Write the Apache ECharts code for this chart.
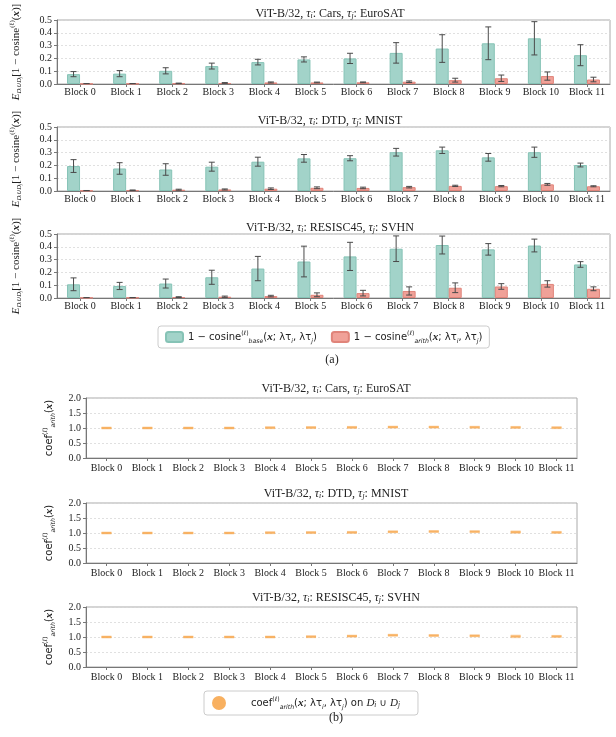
<!DOCTYPE html>
<html>
<head>
<meta charset="utf-8">
<script src="https://cdn.jsdelivr.net/npm/echarts@6/dist/echarts.min.js"></script>
<style>
  html, body { margin: 0; padding: 0; background: #fff; }
  #chart { width: 616px; height: 737px; }
</style>
</head>
<body>
<div id="chart"></div>
<script>
  const blocks = ['Block 0', 'Block 1', 'Block 2', 'Block 3', 'Block 4', 'Block 5',
                  'Block 6', 'Block 7', 'Block 8', 'Block 9', 'Block 10', 'Block 11'];
  const tasksI = ['Cars', 'DTD', 'RESISC45'];
  const tasksJ = ['EuroSAT', 'MNIST', 'SVHN'];

  // (a) mean and std of 1 - cosine, per block
  const baseCars    = [0.077, 0.081, 0.103, 0.140, 0.171, 0.192, 0.200, 0.243, 0.277, 0.318, 0.357, 0.225];
  const baseCarsSd  = [0.020, 0.024, 0.024, 0.023, 0.022, 0.020, 0.040, 0.080, 0.108, 0.128, 0.130, 0.082];
  const arithCars   = [0.002, 0.003, 0.005, 0.008, 0.012, 0.012, 0.013, 0.018, 0.030, 0.045, 0.062, 0.035];
  const arithCarsSd = [0.001, 0.001, 0.002, 0.003, 0.004, 0.003, 0.003, 0.006, 0.015, 0.025, 0.032, 0.018];

  const baseDtd    = [0.195, 0.176, 0.168, 0.190, 0.229, 0.255, 0.256, 0.303, 0.318, 0.263, 0.303, 0.203];
  const baseDtdSd  = [0.050, 0.045, 0.045, 0.035, 0.035, 0.030, 0.020, 0.030, 0.025, 0.030, 0.040, 0.015];
  const arithDtd   = [0.003, 0.006, 0.010, 0.012, 0.018, 0.025, 0.024, 0.030, 0.040, 0.038, 0.052, 0.037];
  const arithDtdSd = [0.001, 0.002, 0.004, 0.004, 0.006, 0.007, 0.006, 0.006, 0.005, 0.005, 0.007, 0.004];

  const baseRes    = [0.107, 0.094, 0.113, 0.162, 0.230, 0.285, 0.325, 0.385, 0.414, 0.380, 0.410, 0.262];
  const baseResSd  = [0.050, 0.028, 0.035, 0.055, 0.095, 0.120, 0.110, 0.100, 0.070, 0.045, 0.050, 0.022];
  const arithRes   = [0.002, 0.003, 0.007, 0.010, 0.015, 0.025, 0.038, 0.055, 0.080, 0.090, 0.110, 0.072];
  const arithResSd = [0.001, 0.001, 0.003, 0.005, 0.006, 0.015, 0.022, 0.032, 0.038, 0.022, 0.025, 0.015];

  // (b) coefficient centre and half spread, per block
  const coefCars     = [1.000, 1.000, 1.000, 1.000, 1.010, 1.015, 1.020, 1.030, 1.030, 1.025, 1.020, 1.010];
  const coefCarsSp   = [0.005, 0.005, 0.008, 0.008, 0.010, 0.012, 0.012, 0.015, 0.015, 0.015, 0.015, 0.012];
  const coefDtd      = [1.000, 1.000, 1.000, 1.000, 1.010, 1.015, 1.020, 1.040, 1.050, 1.045, 1.030, 1.020];
  const coefDtdSp    = [0.008, 0.006, 0.010, 0.012, 0.012, 0.012, 0.015, 0.020, 0.025, 0.040, 0.060, 0.040];
  const coefRes      = [1.000, 1.000, 1.000, 1.000, 1.000, 1.010, 1.030, 1.060, 1.050, 1.040, 1.020, 1.020];
  const coefResSp    = [0.005, 0.005, 0.006, 0.006, 0.006, 0.010, 0.015, 0.020, 0.025, 0.050, 0.060, 0.050];

  const aTicks = [0, 0.1, 0.2, 0.3, 0.4, 0.5];
  const bTicks = [0, 0.5, 1.0, 1.5, 2.0];

  const basePanels  = [[baseCars, baseCarsSd], [baseDtd, baseDtdSd], [baseRes, baseResSd]];
  const arithPanels = [[arithCars, arithCarsSd], [arithDtd, arithDtdSd], [arithRes, arithResSd]];
  const coefPanels  = [[coefCars, coefCarsSp], [coefDtd, coefDtdSp], [coefRes, coefResSp]];

  const SERIF = 'Liberation Serif';
  const SANS = 'DejaVu Sans';
  const INK = '#222';
  const TEAL = '#a2d3c9', TEAL_EDGE = '#86c3b6';
  const RED = '#f0a198', RED_EDGE = '#e0847a';
  const ORANGE = '#f8b060';

  // text pieces shared by titles, axis names and legends
  function richSet(base){
    const sm = Math.round(base * 0.62 * 10) / 10;
    const lh = base + 6;
    const common = { color: INK, fontWeight: 'normal', lineHeight: lh };
    return {
      n:  { ...common, fontFamily: SANS, fontSize: base },
      t:  { ...common, fontFamily: SERIF, fontSize: base + 1 },
      it: { ...common, fontFamily: SERIF, fontStyle: 'italic', fontSize: base + 1 },
      ti: { ...common, fontFamily: SERIF, fontStyle: 'italic', fontSize: sm + 1, verticalAlign: 'bottom', padding: [0, 0, 2, 0] },
      sr: { ...common, fontFamily: SERIF, fontSize: base + 1 },
      ie: { ...common, fontFamily: SERIF, fontStyle: 'italic', fontSize: base + 1 },
      p:  { ...common, fontFamily: SANS, fontSize: sm, verticalAlign: 'top', padding: [1, 0, 0, 0] },
      s:  { ...common, fontFamily: SANS, fontStyle: 'italic', fontSize: sm, verticalAlign: 'bottom', padding: [0, 0, 1, 0] },
      ps: { ...common, fontFamily: SERIF, fontSize: sm + 0.5, verticalAlign: 'top', padding: [1, 0, 0, 0] },
      ss: { ...common, fontFamily: SERIF, fontStyle: 'italic', fontSize: sm + 0.5, verticalAlign: 'bottom', padding: [0, 0, 1, 0] },
      bx: { ...common, fontFamily: SERIF, fontStyle: 'italic', fontWeight: 'bold', fontSize: base + 1 },
      cd: { ...common, fontFamily: SERIF, fontStyle: 'italic', fontSize: base + 1 }
    };
  }
  const titleRich = richSet(11);
  const nameRich = richSet(10);
  const legendRich = richSet(10);

  const aName = '{ie|E}{ss|Dᵢ∪Dⱼ}{sr|[1 − cosine}{ps|(ℓ)}{sr|(}{bx|x}{sr|)]}';
  const bName = '{n|coef}{p|(ℓ)}{s|arith}{n|(}{bx|x}{n|)}';
  const legendText = {
    base:  '{n|1 − cosine}{p|(ℓ)}{s|base}{n|(}{bx|x}{n|; λτ}{s|i}{n|, λτ}{s|j}{n|)}',
    arith: '{n|1 − cosine}{p|(ℓ)}{s|arith}{n|(}{bx|x}{n|; λτ}{s|i}{n|, λτ}{s|j}{n|)}',
    coef:  '{n|coef}{p|(ℓ)}{s|arith}{n|(}{bx|x}{n|; λτ}{s|i}{n|, λτ}{s|j}{n|) on }{cd|D}{ti|i}{n| ∪ }{cd|D}{ti|j}'
  };

  const titleText = k => `{t|ViT-B/32, }{it|τ}{ti|i}{t|: ${tasksI[k]}, }{it|τ}{ti|j}{t|: ${tasksJ[k]}}`;

  const aTops = [20, 127, 234], aH = 64, aLeft = 41, aRight = 6;
  const bTops = [398, 503, 607], bH = 60, bLeft = 86, bRight = 39;

  const grid = [], xAxis = [], yAxis = [], series = [], title = [];

  function catAxis(gi, margin){
    return {
      type: 'category', gridIndex: gi, data: blocks,
      axisLine: { lineStyle: { color: '#777' } },
      axisTick: { show: true, alignWithLabel: true, length: 3, lineStyle: { color: '#777' } },
      axisLabel: { fontFamily: SERIF, fontSize: 10, color: INK, margin, interval: 0 }
    };
  }

  function valAxis(gi, ticks, name, nameGap){
    const step = ticks[1] - ticks[0];
    return {
      type: 'value', gridIndex: gi, min: ticks[0], max: ticks[ticks.length - 1], interval: step,
      name, nameLocation: 'middle', nameRotate: 90, nameGap,
      nameTextStyle: { rich: nameRich },
      axisLine: { show: true, lineStyle: { color: '#777' } },
      axisTick: { show: true, length: 3, lineStyle: { color: '#777' } },
      axisLabel: { fontFamily: SERIF, fontSize: 10, color: INK, margin: 5, formatter: v => v.toFixed(1) },
      splitLine: { show: true, lineStyle: { color: '#d9d9d9', type: [2, 2], width: 0.8 } }
    };
  }

  function errRender(offset){
    return (params, api) => {
      const i = api.value(0), m = api.value(1), s = api.value(2);
      const hi = api.coord([i, m + s]), lo = api.coord([i, m - s]);
      const x = hi[0] + offset;
      const st = { stroke: '#4a4a4a', lineWidth: 1 };
      return { type: 'group', children: [
        { type: 'line', shape: { x1: x, y1: hi[1], x2: x, y2: lo[1] }, style: st },
        { type: 'line', shape: { x1: x - 3, y1: hi[1], x2: x + 3, y2: hi[1] }, style: st },
        { type: 'line', shape: { x1: x - 3, y1: lo[1], x2: x + 3, y2: lo[1] }, style: st }
      ]};
    };
  }

  function coefRender(params, api){
    const i = api.value(0), m = api.value(1), s = api.value(2);
    const c = api.coord([i, m]), hi = api.coord([i, m + s]), lo = api.coord([i, m - s]);
    const w = 10, h = Math.max(lo[1] - hi[1], 3);
    return { type: 'group', children: [
      { type: 'rect', shape: { x: c[0] - w / 2, y: c[1] - h / 2, width: w, height: h }, style: { fill: 'rgba(248,176,96,0.4)' } },
      { type: 'rect', shape: { x: c[0] - w / 2, y: c[1] - 1, width: w, height: 2 }, style: { fill: 'rgba(247,170,84,0.85)' } }
    ]};
  }

  const BW = 13;

  // panel (a)
  for (let k = 0; k < 3; k++) {
    const gi = k;
    grid.push({ left: aLeft, right: aRight, top: aTops[k], height: aH, show: true, borderColor: '#aaa', borderWidth: 1 });
    xAxis.push(catAxis(gi, 3));
    yAxis.push(valAxis(gi, aTicks, aName, 33));
    title.push({ text: titleText(k), left: 325, textAlign: 'center', top: aTops[k] - 20,
                 textStyle: { fontWeight: 'normal', rich: titleRich } });
    const [bm, bs] = basePanels[k];
    const [am, as] = arithPanels[k];
    series.push({
      name: 'base', type: 'bar', xAxisIndex: gi, yAxisIndex: gi, data: bm, barWidth: BW, barGap: '0%',
      itemStyle: { color: TEAL, borderColor: TEAL_EDGE, borderWidth: 1 }
    });
    series.push({
      name: 'arith', type: 'bar', xAxisIndex: gi, yAxisIndex: gi, data: am, barWidth: BW, barGap: '0%',
      itemStyle: { color: RED, borderColor: RED_EDGE, borderWidth: 1 }
    });
    series.push({
      type: 'custom', xAxisIndex: gi, yAxisIndex: gi, z: 5, clip: true,
      renderItem: errRender(-BW / 2), data: bm.map((v, i) => [i, v, bs[i]])
    });
    series.push({
      type: 'custom', xAxisIndex: gi, yAxisIndex: gi, z: 5, clip: true,
      renderItem: errRender(BW / 2), data: am.map((v, i) => [i, v, as[i]])
    });
  }

  // panel (b)
  for (let k = 0; k < 3; k++) {
    const gi = 3 + k;
    grid.push({ left: bLeft, right: bRight, top: bTops[k], height: bH, show: true, borderColor: '#aaa', borderWidth: 1 });
    xAxis.push(catAxis(gi, 5));
    yAxis.push(valAxis(gi, bTicks, bName, 24));
    title.push({ text: titleText(k), left: 331, textAlign: 'center', top: bTops[k] - 23,
                 textStyle: { fontWeight: 'normal', rich: titleRich } });
    const [cm, cs] = coefPanels[k];
    series.push({
      name: 'coef', type: 'custom', xAxisIndex: gi, yAxisIndex: gi, z: 5,
      itemStyle: { color: ORANGE },
      renderItem: coefRender, data: cm.map((v, i) => [i, v, cs[i]])
    });
  }

  title.push({ text: '(a)', left: 327, textAlign: 'center', top: 349, textStyle: { fontFamily: SERIF, fontSize: 12, fontWeight: 'normal', color: INK } });
  title.push({ text: '(b)', left: 331, textAlign: 'center', top: 707, textStyle: { fontFamily: SERIF, fontSize: 12, fontWeight: 'normal', color: INK } });

  const option = {
    animation: false,
    backgroundColor: '#fff',
    title, grid, xAxis, yAxis, series,
    legend: [
      {
        data: ['base', 'arith'], left: 158, top: 326, orient: 'horizontal',
        itemWidth: 17, itemHeight: 10, itemGap: 14, padding: [3, 7, 3, 7],
        borderColor: '#ccc', borderWidth: 1, borderRadius: 3,
        formatter: name => legendText[name],
        textStyle: { rich: legendRich }
      },
      {
        data: [{ name: 'coef', icon: 'circle' }], left: 204, top: 691,
        itemWidth: 14, itemHeight: 14, padding: [4, 18, 4, 8],
        borderColor: '#ccc', borderWidth: 1, borderRadius: 3,
        formatter: name => '{g|}' + legendText[name],
        textStyle: { rich: Object.assign({ g: { width: 20 } }, legendRich) }
      }
    ]
  };

  const chart = echarts.init(document.getElementById('chart'), null, { renderer: 'canvas' });
  chart.setOption(option);
</script>
</body>
</html>
